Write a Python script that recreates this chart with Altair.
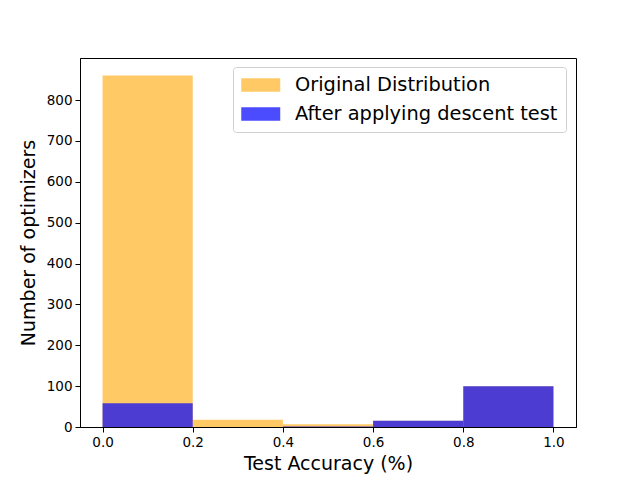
import altair as alt
import pandas as pd

bin_start = [0.0, 0.2, 0.4, 0.6, 0.8]
bin_end = [0.2, 0.4, 0.6, 0.8, 1.0]
original_counts = [860, 18, 7, 15, 100]
descent_counts = [58, 0, 1, 15, 100]
series_names = ["Original Distribution", "After applying descent test"]

rows = []
for i, (s, counts) in enumerate(zip(series_names, [original_counts, descent_counts])):
    for a, b, c in zip(bin_start, bin_end, counts):
        rows.append({"start": a, "end": b, "count": c, "base": 0, "series": s, "order": i})
df = pd.DataFrame(rows)

font = "DejaVu Sans"

color = alt.Color(
    "series:N",
    scale=alt.Scale(domain=series_names, range=["#FFA500", "#0000FF"]),
    legend=alt.Legend(
        title=None,
        orient="none",
        legendX=153,
        legendY=9,
        symbolType="M-1,-0.7H3V0.7H-1Z",
        symbolSize=380,
        symbolStrokeWidth=0,
        labelFont=font,
        labelFontSize=19.4,
        labelColor="black",
        labelOffset=34,
        rowPadding=9,
        padding=8,
        strokeColor="#d0d0d0",
        fillColor="white",
        cornerRadius=3,
        labelLimit=400,
    ),
)
opacity = alt.Opacity(
    "series:N",
    scale=alt.Scale(domain=series_names, range=[0.6, 0.7]),
    legend=alt.Legend(title=None),
)

x = alt.X(
    "start:Q",
    scale=alt.Scale(domain=[-0.05, 1.05], nice=False, zero=False, padding=0),
    axis=alt.Axis(
        values=[0.0, 0.2, 0.4, 0.6, 0.8, 1.0],
        format=".1f",
        title="Test Accuracy (%)",
        grid=False,
        labelFont=font,
        labelFontSize=13.5,
        labelColor="black",
        titleFont=font,
        titleFontSize=19,
        titleFontWeight="normal",
        titleColor="black",
        tickColor="black",
        tickSize=5,
        domainColor="black",
        labelPadding=3,
        titlePadding=6,
    ),
)
y = alt.Y(
    "count:Q",
    scale=alt.Scale(domain=[0, 903], nice=False, padding=0),
    axis=alt.Axis(
        values=[0, 100, 200, 300, 400, 500, 600, 700, 800],
        title="Number of optimizers",
        grid=False,
        labelFont=font,
        labelFontSize=13.5,
        labelColor="black",
        titleFont=font,
        titleFontSize=19,
        titleFontWeight="normal",
        titleColor="black",
        tickColor="black",
        tickSize=5,
        domainColor="black",
        labelPadding=3,
        titlePadding=8,
    ),
)

chart = (
    alt.Chart(df)
    .mark_bar(strokeWidth=0, orient="vertical")
    .encode(x=x, x2="end:Q", y=y, y2="base:Q", color=color, opacity=opacity,
            order=alt.Order("order:Q"))
    .properties(width=496, height=369)
    .configure_view(stroke="black", strokeWidth=1)
    .properties(autosize=alt.AutoSizeParams(type="none"),
                padding={"left": 72, "top": 50, "right": 56, "bottom": 52},
                background="white")
)

chart.save("out.html", embed_options={"renderer": "svg", "actions": False})
